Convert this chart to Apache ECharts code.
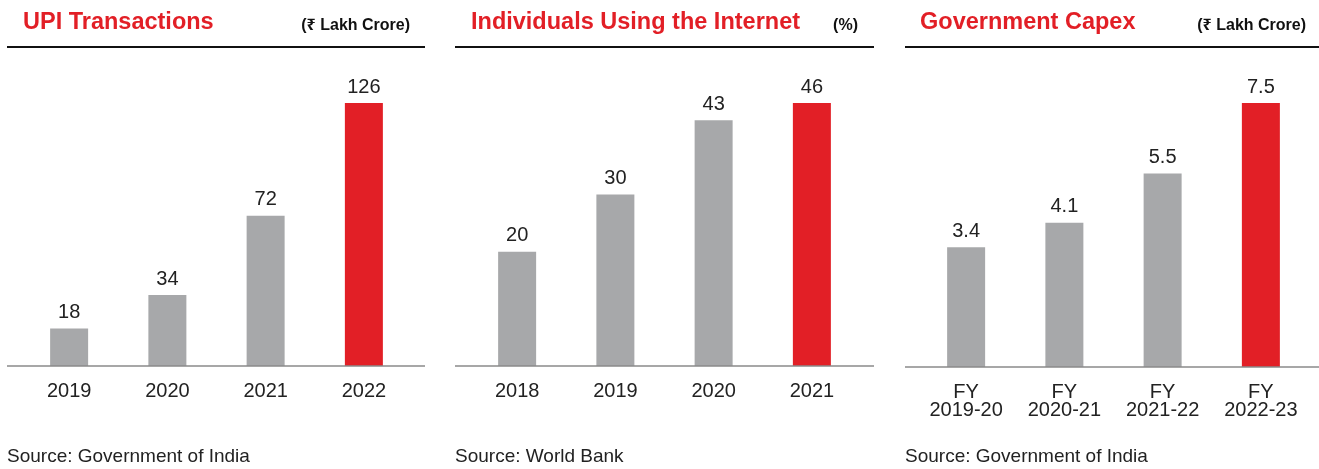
<!DOCTYPE html>
<html><head><meta charset="utf-8">
<script src="https://cdn.jsdelivr.net/npm/echarts@6/dist/echarts.min.js"></script>
<style>html,body{margin:0;padding:0;background:#fff}#c{width:1319px;height:469px}</style>
</head><body><div id="c"></div>
<script>
const upiYears = ['2019', '2020', '2021', '2022'];
const upiValues = [18, 34, 72, 126];
const netYears = ['2018', '2019', '2020', '2021'];
const netValues = [20, 30, 43, 46];
const capexYears = ['FY\n2019-20', 'FY\n2020-21', 'FY\n2021-22', 'FY\n2022-23'];
const capexValues = [3.4, 4.1, 5.5, 7.5];
const titles = ['UPI Transactions', 'Individuals Using the Internet', 'Government Capex'];
const units = ['(₹ Lakh Crore)', '(%)', '(₹ Lakh Crore)'];
const sources = ['Source: Government of India', 'Source: World Bank', 'Source: Government of India'];

const GREY = '#a7a8aa', RED = '#e21f26';
const FONT = '"Liberation Sans", "Noto Sans", Arial, sans-serif';
const chart = echarts.init(document.getElementById('c'), null, {renderer: 'canvas'});

function colored(vals) {
  return vals.map((v, i) => ({value: v, itemStyle: {color: i === vals.length - 1 ? RED : GREY}}));
}
const grids = [
  {left: 20, width: 393, top: 103, height: 263},
  {left: 468, width: 393, top: 103, height: 263},
  {left: 917, width: 393, top: 103, height: 264}
];
const cats = [upiYears, netYears, capexYears];
const vals = [upiValues, netValues, capexValues];
const panels = [{x0: 7, x1: 425, unitX: 410, titleX: 23}, {x0: 455, x1: 874, unitX: 858, titleX: 471}, {x0: 905, x1: 1319, unitX: 1306, titleX: 920}];
const baseY = [366, 366, 367];

const graphic = [];
panels.forEach((p, i) => {
  graphic.push({type: 'text', style: {x: p.titleX, y: 23, text: titles[i], fill: RED, font: 'bold 23.5px ' + FONT, textVerticalAlign: 'middle'}});
  graphic.push({type: 'text', style: {x: p.unitX, y: 26, text: units[i], fill: '#111', font: 'bold 16px ' + FONT, textAlign: 'right', textVerticalAlign: 'middle'}});
  graphic.push({type: 'line', shape: {x1: p.x0, y1: 47, x2: p.x1, y2: 47}, style: {stroke: '#111', lineWidth: 2}});
  graphic.push({type: 'line', shape: {x1: p.x0, y1: baseY[i], x2: p.x1, y2: baseY[i]}, style: {stroke: '#8a8a8a', lineWidth: 1.5}, z: 10});
  graphic.push({type: 'text', style: {x: p.x0, y: 457, text: sources[i], fill: '#222', font: '19px ' + FONT, textVerticalAlign: 'middle'}});
});

chart.setOption({
  animation: false,
  grid: grids,
  xAxis: cats.map((c, i) => ({
    type: 'category', gridIndex: i, data: c,
    axisLine: {show: false}, axisTick: {show: false},
    axisLabel: {color: '#222', fontSize: 20, fontFamily: FONT, margin: 16, lineHeight: 18, interval: 0}
  })),
  yAxis: vals.map((v, i) => ({
    type: 'value', gridIndex: i, min: 0, max: Math.max(...v),
    show: false, splitLine: {show: false}
  })),
  series: vals.map((v, i) => ({
    type: 'bar', xAxisIndex: i, yAxisIndex: i, data: colored(v), barWidth: 38,
    label: {show: true, position: 'top', distance: 6, color: '#222', fontSize: 20, fontFamily: FONT}
  })),
  graphic: graphic
});
</script></body></html>
